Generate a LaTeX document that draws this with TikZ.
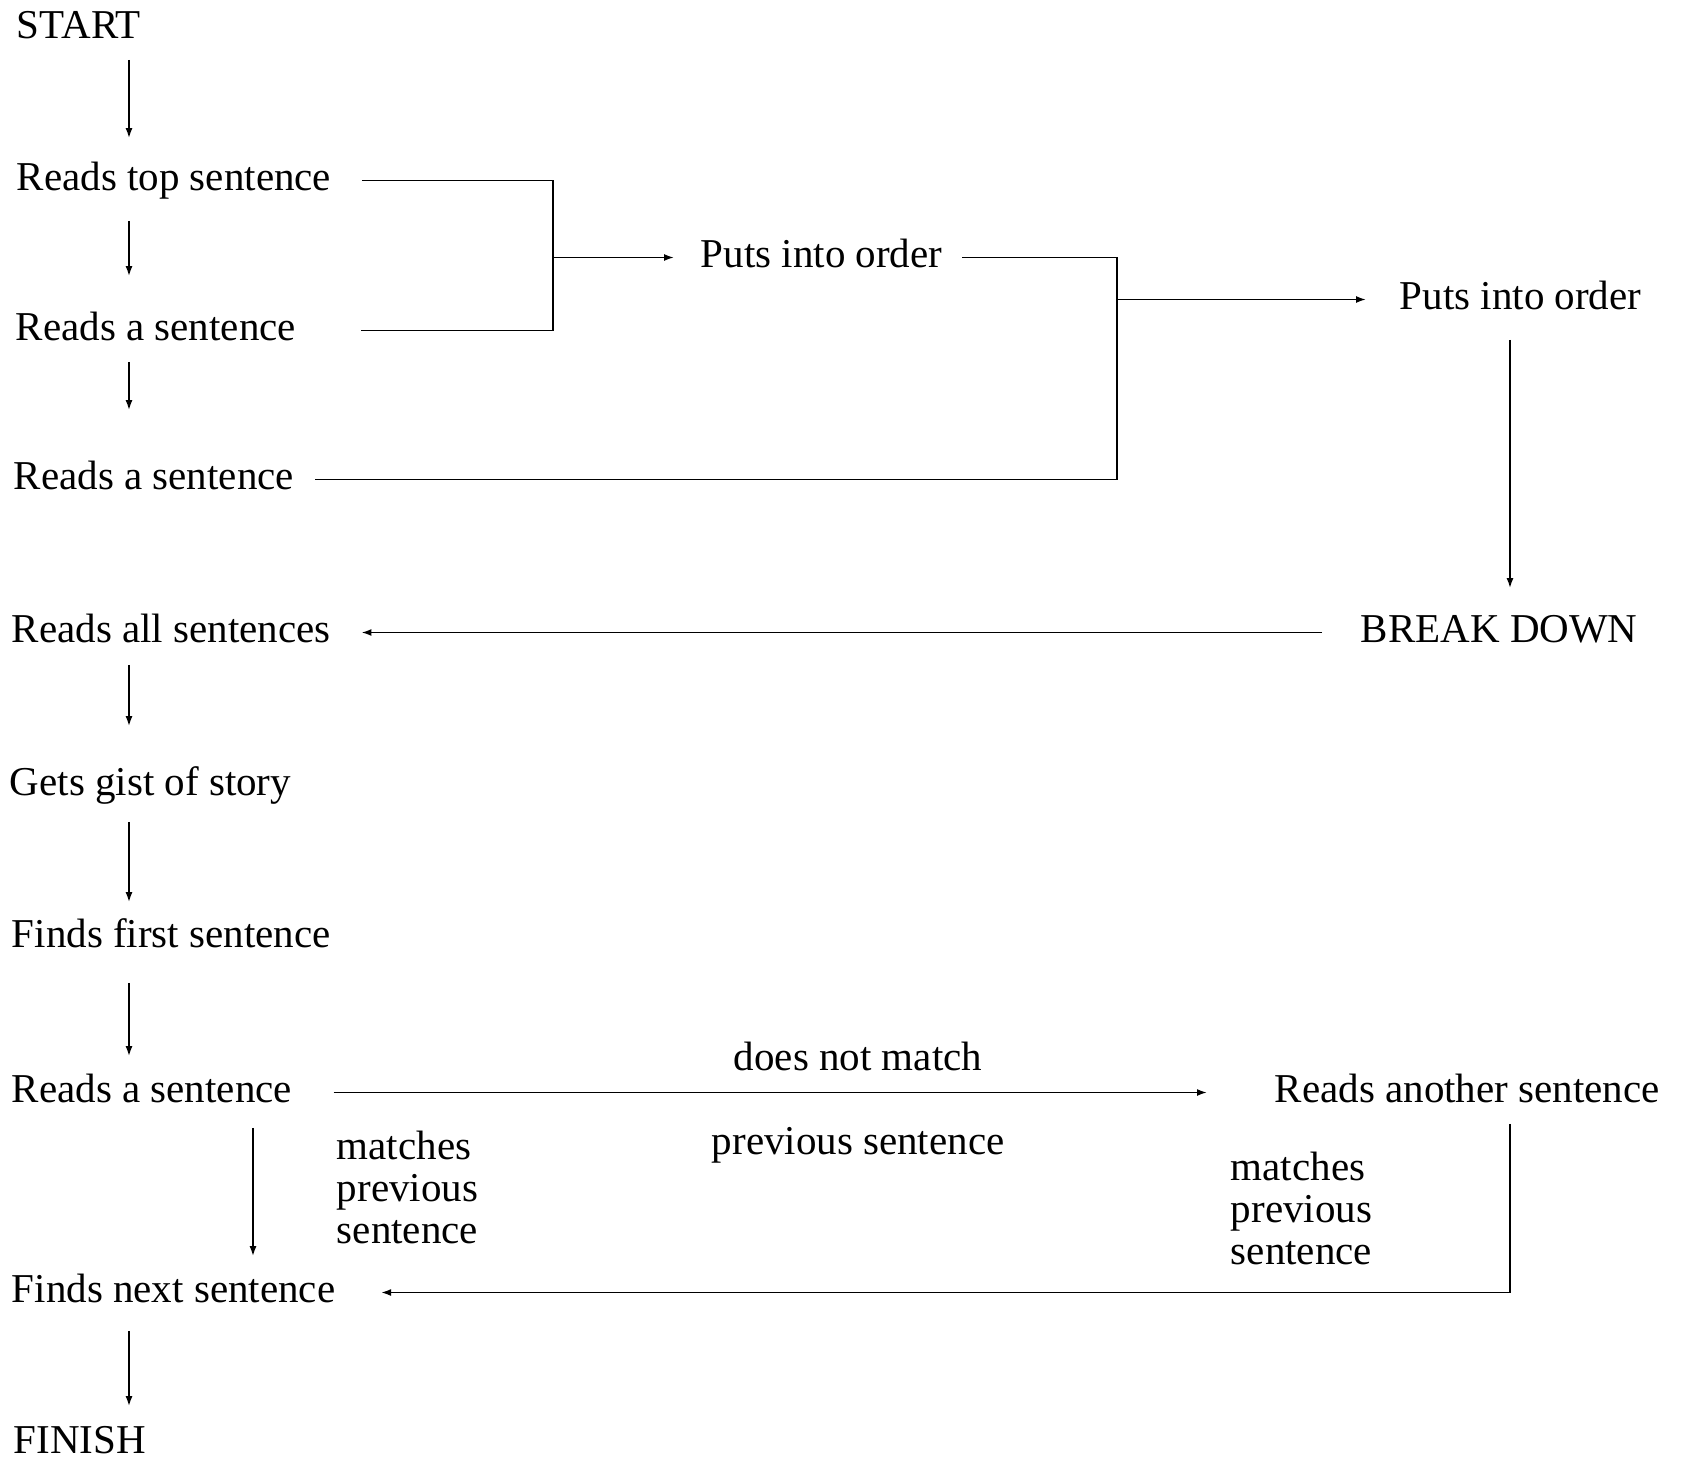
\documentclass[tikz,border=0pt]{standalone}
\usepackage{fontspec}
\setmainfont{Liberation Serif}
\usetikzlibrary{arrows.meta}

\begin{document}
\begin{tikzpicture}
      [x=1pt,y=-1pt,line width=1.7pt,
      every node/.style={inner sep=0pt,anchor=base west,font=\fontsize{41}{42}\selectfont},
      txt/.style={text height=28pt,text depth=9pt},
      note/.style={align=left,anchor=north west},
      arr/.style={-{Latex[length=10pt,width=7pt]}}]
   \useasboundingbox (0,0) rectangle (1682,1461);
   \node[txt] (start) at (16,39) {START};
   \node[txt] (readtop) at (16,190) {Reads top sentence};
   \node[txt] (reada) at (15,340) {Reads a sentence};
   \node[txt] (readb) at (13,489) {Reads a sentence};
   \node[txt] (orderA) at (700,267) {Puts into order};
   \node[txt] (orderB) at (1399,309) {Puts into order};
   \node[txt] (breakdown) at (1360,642) {BREAK DOWN};
   \node[txt] (readall) at (11,642) {Reads all sentences};
   \node[txt] (gist) at (9,795) {Gets gist of story};
   \node[txt] (findfirst) at (11,947) {Finds first sentence};
   \node[txt] (readc) at (11,1102) {Reads a sentence};
   \node[txt] (another) at (1274,1102) {Reads another sentence};
   \node[txt] (nomatch) at (733,1070) {does not match};
   \node[txt] (prevsent) at (711,1154) {previous sentence};
   \node[note] (matchL) at (336,1130) {matches\\previous\\sentence};
   \node[note] (matchR) at (1230,1151) {matches\\previous\\sentence};
   \node[txt] (findnext) at (11,1302) {Finds next sentence};
   \node[txt] (finish) at (13,1453) {FINISH};

   \coordinate (colL) at (129,0);
   \coordinate (colM) at (253,0);
   \coordinate (colR) at (1510,0);
   \coordinate (joinA) at (553,0);
   \coordinate (joinB) at (1117,0);

   \draw[arr,shorten <=11pt,shorten >=23pt] (start.south -| colL) -- (readtop.north -| colL);
   \draw[arr,shorten <=21pt,shorten >=35pt] (readtop.south -| colL) -- (reada.north -| colL);
   \draw[arr,shorten <=12pt,shorten >=50pt] (reada.south -| colL) -- (readb.north -| colL);

   \draw ([xshift=30pt]readtop.east) -- (readtop.east -| joinA) -- (reada.east -| joinA) -- ([xshift=64pt]reada.east);
   \draw[arr,shorten >=26pt] (orderA.west -| joinA) -- (orderA.west);
   \draw ([xshift=19pt]orderA.east) -- (orderA.east -| joinB) -- (readb.east -| joinB) -- ([xshift=20pt]readb.east);
   \draw[arr,shorten >=33pt] (orderB.west -| joinB) -- (orderB.west);
   \draw[arr,shorten <=21pt,shorten >=25pt] (orderB.south -| colR) -- (breakdown.north -| colR);
   \draw[arr,shorten <=38pt,shorten >=30pt] (breakdown.west) -- (readall.east);

   \draw[arr,shorten <=13pt,shorten >=40pt] (readall.south -| colL) -- (gist.north -| colL);
   \draw[arr,shorten <=17pt,shorten >=16pt] (gist.south -| colL) -- (findfirst.north -| colL);
   \draw[arr,shorten <=26pt,shorten >=17pt] (findfirst.south -| colL) -- (readc.north -| colL);

   \draw[arr,shorten <=41pt,shorten >=67pt] (readc.east) -- (another.west);
   \draw[arr,shorten <=16pt,shorten >=17pt] (readc.south -| colM) -- (findnext.north -| colM);
   \draw[arr,shorten <=12pt,shorten >=45pt] (another.south -| colR) |- (findnext.east);
   \draw[arr,shorten <=19pt,shorten >=18pt] (findnext.south -| colL) -- (finish.north -| colL);
\end{tikzpicture}
\end{document}
